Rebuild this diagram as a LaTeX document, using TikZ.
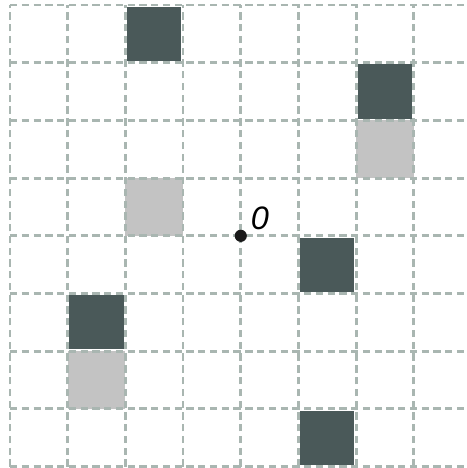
\documentclass[tikz,border=0pt]{standalone}
\usepackage{fontspec}
\setmainfont{Liberation Sans}

\definecolor{gridgray}{HTML}{A9B6B1}
\definecolor{darkcell}{HTML}{4A5959}
\definecolor{lightcell}{HTML}{C3C3C3}

\tikzset{
  darksq/.style={fill=darkcell},
  lightsq/.style={fill=lightcell},
  gridline/.style={gridgray, line width=1.4pt, dash pattern=on 3.6pt off 2.2pt},
  origindot/.style={circle, fill=black!90, inner sep=0pt, minimum size=6pt}
}

\begin{document}
\begin{tikzpicture}

     \useasboundingbox (-4.173,-4.024) rectangle (3.92,4.087);
     \clip (-4.173,-4.024) rectangle (3.92,4.087);

     % light squares
     \fill[lightsq] (2,1) rectangle (3,2);
     \fill[lightsq] (-2,0) rectangle (-1,1);
     \fill[lightsq] (-3,-3) rectangle (-2,-2);

     % dark squares
     \fill[darksq] (-1.97,3.03) rectangle (-1.03,3.97);
     \fill[darksq] (2.03,2.03) rectangle (2.97,2.97);
     \fill[darksq] (1.03,-0.97) rectangle (1.97,-0.03);
     \fill[darksq] (-2.97,-1.97) rectangle (-2.03,-1.03);
     \fill[darksq] (1.03,-3.97) rectangle (1.97,-3.03);

     % grid
     \draw[gridline] (-4,-4) grid (4,4);

     % origin
     \node[origindot] (o) at (0,0) {};
     \node[font=\fontsize{16}{19}\selectfont\itshape] (olabel) at (0.33,0.31) {0};

\end{tikzpicture}
\end{document}
